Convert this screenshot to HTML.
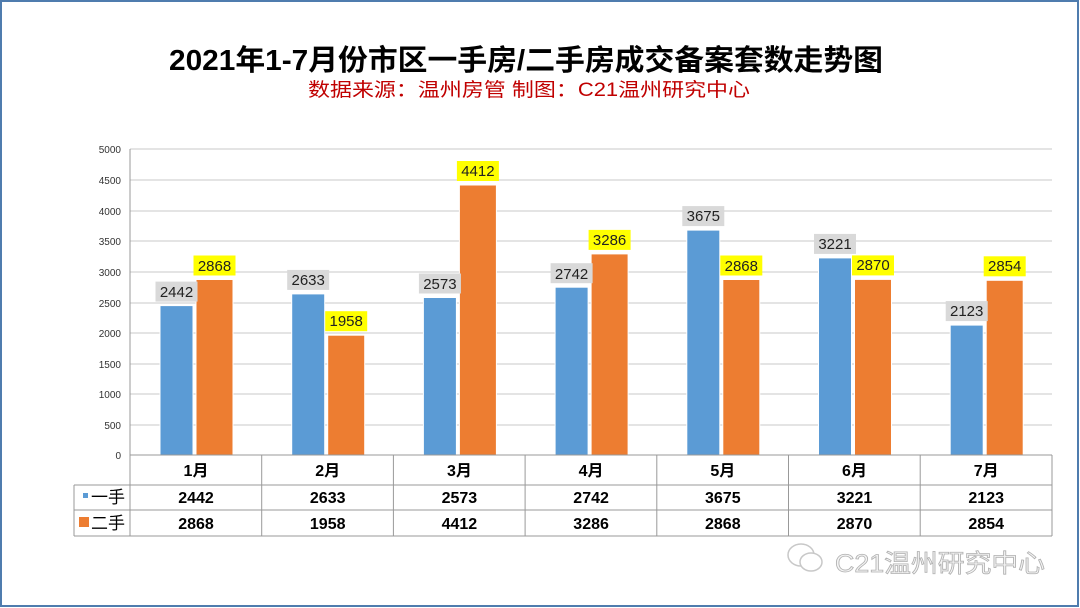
<!DOCTYPE html>
<html><head><meta charset="utf-8"><style>
html,body{margin:0;padding:0;background:#fff}
svg{display:block}
text{font-family:"Liberation Sans","Noto Sans CJK SC",sans-serif}
</style></head><body>
<svg width="1080" height="608" viewBox="0 0 1080 608" xmlns="http://www.w3.org/2000/svg">
<rect x="1" y="1" width="1077" height="605" fill="#fff" stroke="#4f7cae" stroke-width="2"/>
<text x="526" y="70" text-anchor="middle" font-size="29" font-weight="bold" fill="#000" textLength="714" lengthAdjust="spacingAndGlyphs">2021年1-7月份市区一手房/二手房成交备案套数走势图</text>
<text x="529" y="96" text-anchor="middle" font-size="19" fill="#c00000" textLength="442" lengthAdjust="spacingAndGlyphs">数据来源：温州房管  制图：C21温州研究中心</text>
<g stroke="#c8c8c8" stroke-width="1">
<line x1="130" y1="149" x2="1052" y2="149"/><line x1="130" y1="180" x2="1052" y2="180"/>
<line x1="130" y1="211" x2="1052" y2="211"/><line x1="130" y1="241" x2="1052" y2="241"/>
<line x1="130" y1="272" x2="1052" y2="272"/><line x1="130" y1="303" x2="1052" y2="303"/>
<line x1="130" y1="333" x2="1052" y2="333"/><line x1="130" y1="364" x2="1052" y2="364"/>
<line x1="130" y1="394" x2="1052" y2="394"/><line x1="130" y1="425" x2="1052" y2="425"/>
</g>
<line x1="130" y1="149" x2="130" y2="455" stroke="#999"/>
<g font-size="10" fill="#333" text-anchor="end">
<text x="121" y="153">5000</text><text x="121" y="184">4500</text><text x="121" y="215">4000</text>
<text x="121" y="245">3500</text><text x="121" y="276">3000</text><text x="121" y="307">2500</text>
<text x="121" y="337">2000</text><text x="121" y="368">1500</text><text x="121" y="398">1000</text>
<text x="121" y="429">500</text><text x="121" y="459">0</text>
</g>
<g fill="#5b9bd5" stroke="#fff" stroke-width="1">
<rect x="160" y="305.6" width="33" height="149.4"/>
<rect x="291.7" y="293.9" width="33" height="161.1"/>
<rect x="423.4" y="297.5" width="33" height="157.5"/>
<rect x="555.1" y="287.2" width="33" height="167.8"/>
<rect x="686.8" y="230.1" width="33" height="224.9"/>
<rect x="818.5" y="257.9" width="33" height="197.1"/>
<rect x="950.2" y="325.1" width="33" height="129.9"/>
</g>
<g fill="#ed7d31" stroke="#fff" stroke-width="1">
<rect x="196" y="279.5" width="37" height="175.5"/>
<rect x="327.7" y="335.2" width="37" height="119.8"/>
<rect x="459.4" y="185" width="37" height="270"/>
<rect x="591.1" y="253.9" width="37" height="201.1"/>
<rect x="722.8" y="279.5" width="37" height="175.5"/>
<rect x="854.5" y="279.4" width="37" height="175.6"/>
<rect x="986.2" y="280.3" width="37" height="174.7"/>
</g>
<g fill="#d9d9d9">
<rect x="155.5" y="281.6" width="42" height="20"/>
<rect x="287.2" y="269.9" width="42" height="20"/>
<rect x="418.9" y="273.5" width="42" height="20"/>
<rect x="550.6" y="263.2" width="42" height="20"/>
<rect x="682.3" y="206.1" width="42" height="20"/>
<rect x="814" y="233.9" width="42" height="20"/>
<rect x="945.7" y="301.1" width="42" height="20"/>
</g>
<g fill="#ffff00">
<rect x="193.5" y="255.5" width="42" height="20"/>
<rect x="325.2" y="311.2" width="42" height="20"/>
<rect x="456.9" y="161" width="42" height="20"/>
<rect x="588.6" y="229.9" width="42" height="20"/>
<rect x="720.3" y="255.5" width="42" height="20"/>
<rect x="852" y="255.4" width="42" height="20"/>
<rect x="983.7" y="256.3" width="42" height="20"/>
</g>
<g font-size="15" fill="#222" text-anchor="middle">
<text x="176.5" y="297">2442</text><text x="308.2" y="285">2633</text><text x="439.9" y="289">2573</text>
<text x="571.6" y="279">2742</text><text x="703.3" y="221">3675</text><text x="835" y="249">3221</text>
<text x="966.7" y="316">2123</text>
<text x="214.5" y="271">2868</text><text x="346.2" y="326">1958</text><text x="477.9" y="176">4412</text>
<text x="609.6" y="245">3286</text><text x="741.3" y="271">2868</text><text x="873" y="270">2870</text>
<text x="1004.7" y="271">2854</text>
</g>
<g stroke="#999" stroke-width="1" fill="none">
<line x1="130" y1="455" x2="1052" y2="455"/>
<line x1="74" y1="485" x2="1052" y2="485"/>
<line x1="74" y1="510" x2="1052" y2="510"/>
<line x1="74" y1="536" x2="1052" y2="536"/>
<line x1="74" y1="485" x2="74" y2="536"/>
<line x1="130" y1="455" x2="130" y2="536"/>
<line x1="261.7" y1="455" x2="261.7" y2="536"/>
<line x1="393.4" y1="455" x2="393.4" y2="536"/>
<line x1="525.1" y1="455" x2="525.1" y2="536"/>
<line x1="656.8" y1="455" x2="656.8" y2="536"/>
<line x1="788.5" y1="455" x2="788.5" y2="536"/>
<line x1="920.2" y1="455" x2="920.2" y2="536"/>
<line x1="1052" y1="455" x2="1052" y2="536"/>
</g>
<g font-size="16" font-weight="bold" fill="#000" text-anchor="middle">
<text x="196" y="476">1月</text><text x="327.7" y="476">2月</text><text x="459.4" y="476">3月</text>
<text x="591.1" y="476">4月</text><text x="722.8" y="476">5月</text><text x="854.5" y="476">6月</text>
<text x="986.2" y="476">7月</text>
<text x="196" y="503">2442</text><text x="327.7" y="503">2633</text><text x="459.4" y="503">2573</text>
<text x="591.1" y="503">2742</text><text x="722.8" y="503">3675</text><text x="854.5" y="503">3221</text>
<text x="986.2" y="503">2123</text>
<text x="196" y="529">2868</text><text x="327.7" y="529">1958</text><text x="459.4" y="529">4412</text>
<text x="591.1" y="529">3286</text><text x="722.8" y="529">2868</text><text x="854.5" y="529">2870</text>
<text x="986.2" y="529">2854</text>
</g>
<rect x="83" y="493" width="5" height="5" fill="#5b9bd5"/>
<rect x="79" y="517" width="10" height="10" fill="#ed7d31"/>
<g font-size="17" fill="#000"><text x="91" y="503">一手</text><text x="91" y="529">二手</text></g>
<g fill="#fff" stroke="#c8c8c8" stroke-width="1.5">
<ellipse cx="801" cy="555" rx="13" ry="11"/>
<ellipse cx="811" cy="562" rx="11" ry="9"/>
</g>
<text x="835" y="572" font-size="25" fill="#f4f4f4" stroke="#b0b0b0" stroke-width="0.8" textLength="210" lengthAdjust="spacingAndGlyphs">C21温州研究中心</text>
</svg>
</body></html>
